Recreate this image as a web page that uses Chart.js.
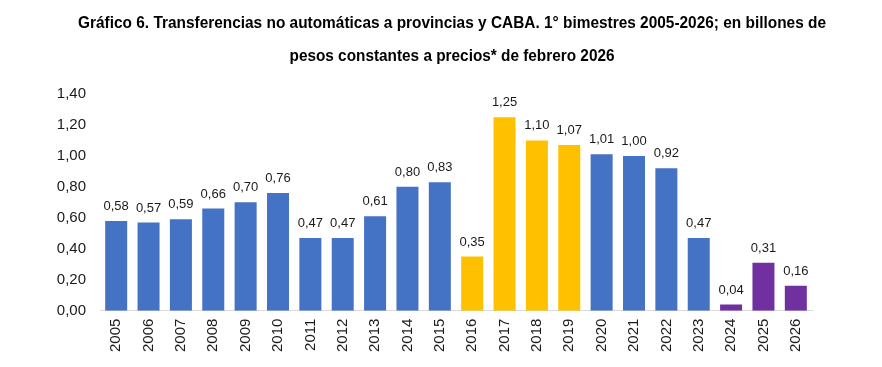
<!DOCTYPE html>
<html>
<head>
<meta charset="utf-8">
<script src="https://cdn.jsdelivr.net/npm/chart.js@4"></script>
<style>
html,body{margin:0;padding:0;background:#fff;}
#wrap{width:882px;height:367px;}
</style>
</head>
<body>
<div id="wrap"><canvas id="c" width="882" height="367"></canvas></div>
<script>
const years = ["2005","2006","2007","2008","2009","2010","2011","2012","2013","2014","2015","2016","2017","2018","2019","2020","2021","2022","2023","2024","2025","2026"];
const values = [0.58,0.57,0.59,0.66,0.70,0.76,0.47,0.47,0.61,0.80,0.83,0.35,1.25,1.10,1.07,1.01,1.00,0.92,0.47,0.04,0.31,0.16];
const groups = ["base","base","base","base","base","base","base","base","base","base","base","alt","alt","alt","alt","base","base","base","base","new","new","new"];
const groupColors = {base:"#4472C4", alt:"#FFC000", new:"#7030A0"};
const titleLines = ["Gráfico 6. Transferencias no automáticas a provincias y CABA. 1° bimestres 2005-2026; en billones de","pesos constantes a precios* de febrero 2026"];

const fmt = v => v.toFixed(2).replace(".", ",");

const labelPlugin = {
  id: "barLabels",
  afterDatasetsDraw(chart) {
    const ctx = chart.ctx;
    const meta = chart.getDatasetMeta(0);
    ctx.save();
    ctx.font = "13px 'Liberation Sans', Arial, sans-serif";
    ctx.fillStyle = "#1a1a1a";
    ctx.textAlign = "center";
    ctx.textBaseline = "bottom";
    meta.data.forEach((bar, i) => {
      ctx.fillText(fmt(values[i]), bar.x, bar.y - 8);
    });
    ctx.restore();
  }
};

const titlePlugin = {
  id: "condTitle",
  afterDraw(chart) {
    const ctx = chart.ctx;
    ctx.save();
    ctx.font = "bold 16px 'Liberation Sans', Arial, sans-serif";
    ctx.fillStyle = "#000";
    ctx.textAlign = "center";
    ctx.textBaseline = "middle";
    const cx = 452;
    const ys = [24, 57];
    const maxW = [748, 325];
    titleLines.forEach((t, i) => {
      const w = ctx.measureText(t).width;
      ctx.fillText(t, cx, ys[i], Math.min(w, maxW[i]));
    });
    ctx.restore();
  }
};

new Chart(document.getElementById("c"), {
  type: "bar",
  data: {
    labels: years,
    datasets: [{
      data: values,
      backgroundColor: groups.map(g => groupColors[g]),
      borderWidth: 0,
      categoryPercentage: 1.0,
      barPercentage: 0.68
    }]
  },
  options: {
    responsive: false,
    animation: false,
    devicePixelRatio: 1,
    layout: { padding: { left: 20, right: 70, top: 94, bottom: 7 } },
    plugins: {
      legend: { display: false },
      tooltip: { enabled: false },
      title: { display: false }
    },
    scales: {
      x: {
        grid: { display: false, drawTicks: false },
        border: { display: true, color: "#d9d9d9", width: 1 },
        ticks: {
          color: "#1a1a1a",
          font: { family: "'Liberation Sans', Arial, sans-serif", size: 15 },
          maxRotation: 90, minRotation: 90,
          padding: 8
        }
      },
      y: {
        min: 0, max: 1.4,
        afterFit(s) { s.width = 80; },
        grid: { display: false, drawTicks: false },
        border: { display: false },
        ticks: {
          stepSize: 0.2,
          color: "#1a1a1a",
          font: { family: "'Liberation Sans', Arial, sans-serif", size: 15 },
          padding: 14,
          callback: v => fmt(v)
        }
      }
    }
  },
  plugins: [labelPlugin, titlePlugin]
});
</script>
</body>
</html>
